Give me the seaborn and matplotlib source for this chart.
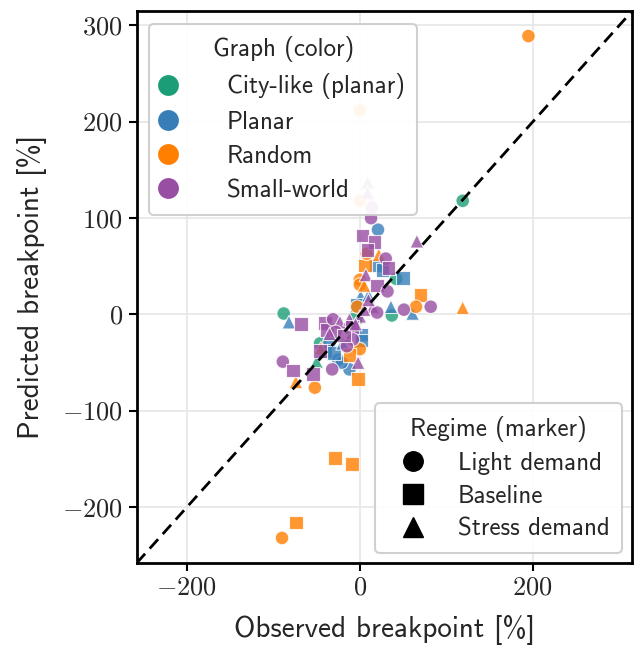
import matplotlib
matplotlib.use("Agg")
import matplotlib.pyplot as plt
from matplotlib.lines import Line2D
from matplotlib.ticker import FuncFormatter
import seaborn as sns
import pandas as pd

# Observed vs predicted breakpoint (% change) per network run
city_obs = [119, -88, 37, -46, -50, 42, -5]
city_pred = [118, 1, -1, -30, -49, 37, -3]
city_reg = ["Light demand", "Light demand", "Light demand", "Light demand",
            "Stress demand", "Light demand", "Baseline"]

planar_obs = [21, 19, 50, 26, 61, 36, -82, -35, -25, -12, -21, 2, 2, 1, -3, 10, -40, -30, -20]
planar_pred = [88, 51, 38, 46, 1, 8, -8, -29, -47, -57, -50, -21, -27, 19, 10, 20, -38, -40, -30]
planar_reg = ["Light demand", "Baseline", "Baseline", "Baseline", "Stress demand",
              "Stress demand", "Stress demand", "Light demand", "Light demand",
              "Light demand", "Light demand", "Baseline", "Baseline", "Stress demand",
              "Baseline", "Stress demand", "Baseline", "Baseline", "Stress demand"]

random_obs = [195, 0, 0, 70, 65, 119, 22, 6, 0, 0, -2, 0, -12, -74, -52, -29, -9, -74,
              -90, -45, -3, 5, 8]
random_pred = [289, 212, 118, 20, 8, 7, 62, 51, 36, 31, -67, -36, -42, -70, -76, -149,
               -155, -216, -232, -35, 8, 30, 63]
random_reg = ["Light demand", "Light demand", "Light demand", "Baseline", "Light demand",
              "Stress demand", "Stress demand", "Baseline", "Light demand", "Light demand",
              "Baseline", "Light demand", "Baseline", "Stress demand", "Light demand",
              "Baseline", "Baseline", "Baseline", "Light demand", "Stress demand",
              "Light demand", "Stress demand", "Light demand"]

small_obs = [13, 3, 17, 9, 66, 30, 33, 7, 20, 32, 82, 51, 15, 20, -68, -40, -38, -31,
             -23, -12, 0, -9, -8, -15, -46, -89, -77, -54, -32, -2, 9, 9, 14, -28, -18,
             -5, 5, 10, -35]
small_pred = [100, 82, 75, 67, 76, 58, 48, 41, 30, 24, 8, 5, 8, 2, -10, -9, -16, -5,
              -8, -5, -2, -13, -26, -33, -38, -49, -58, -62, -57, -50, 137, 126, 111,
              -18, -22, -10, 5, 15, -20]
small_reg = ["Light demand", "Baseline", "Baseline", "Baseline", "Stress demand",
             "Light demand", "Baseline", "Stress demand", "Baseline", "Light demand",
             "Light demand", "Light demand", "Stress demand", "Light demand", "Baseline",
             "Baseline", "Baseline", "Light demand", "Stress demand", "Stress demand",
             "Stress demand", "Baseline", "Light demand", "Light demand", "Baseline",
             "Light demand", "Baseline", "Baseline", "Light demand", "Stress demand",
             "Stress demand", "Stress demand", "Light demand", "Light demand", "Baseline",
             "Stress demand", "Stress demand", "Stress demand", "Stress demand"]

graph_names = ["City-like (planar)", "Planar", "Random", "Small-world"]
graph_colors = ["#1b9e77", "#377eb8", "#ff7f00", "#984ea3"]
regime_names = ["Light demand", "Baseline", "Stress demand"]
regime_markers = ["o", "s", "^"]

frames = []
for name, obs, pred, reg in zip(graph_names,
                                [city_obs, planar_obs, random_obs, small_obs],
                                [city_pred, planar_pred, random_pred, small_pred],
                                [city_reg, planar_reg, random_reg, small_reg]):
    frames.append(pd.DataFrame({"graph": name, "observed": obs,
                                "predicted": pred, "regime": reg}))
df = pd.concat(frames, ignore_index=True)

sns.set_theme(style="whitegrid")
plt.rcParams.update({
    "font.family": ["cmss10", "DejaVu Sans"],
    "mathtext.fontset": "cm",
})

fig = plt.figure(figsize=(6.36, 6.49), dpi=100)
ax = fig.add_axes([0.215, 0.1325, 0.779, 0.8505])

lim = (-258, 315)
ax.plot(lim, lim, ls="--", color="black", lw=2, zorder=3, dashes=(4.5, 2.5))

sns.scatterplot(data=df, x="observed", y="predicted", hue="graph", style="regime",
                hue_order=graph_names, style_order=regime_names,
                palette=dict(zip(graph_names, graph_colors)),
                markers=dict(zip(regime_names, regime_markers)),
                s=95, alpha=0.8, edgecolor="white", linewidth=0.8,
                legend=False, ax=ax, zorder=2)

ax.set_xlim(lim)
ax.set_ylim(lim)
ax.set_xticks([-200, 0, 200])
ax.set_yticks([-200, -100, 0, 100, 200, 300])
math_fmt = FuncFormatter(lambda v, p: r"$%d$" % v)
ax.xaxis.set_major_formatter(math_fmt)
ax.yaxis.set_major_formatter(math_fmt)
ax.grid(True, color="#e6e6e6", lw=1.2)
for sp in ax.spines.values():
    sp.set_color("black")
    sp.set_linewidth(2)
ax.tick_params(axis="both", which="major", direction="out", length=6, width=1.5,
               color="black", labelsize=19, left=True, bottom=True, pad=4)
ax.set_xlabel("Observed breakpoint [%]", fontsize=21, labelpad=11)
ax.set_ylabel("Predicted breakpoint [%]", fontsize=21, labelpad=11)

color_handles = [Line2D([], [], marker="o", ls="", markersize=15, color=c,
                        markeredgecolor="none") for c in graph_colors]
leg1 = ax.legend(color_handles, graph_names, title="Graph (color)", loc="upper left",
                 borderaxespad=0.5, fontsize=18, title_fontsize=18,
                 frameon=True, framealpha=0.92, edgecolor="#cccccc",
                 handlelength=0.5, handletextpad=2.1, labelspacing=0.45,
                 borderpad=0.5)
leg1.get_frame().set_linewidth(1.5)
ax.add_artist(leg1)

marker_handles = [Line2D([], [], marker=m, ls="", markersize=14, color="black")
                  for m in regime_markers]
leg2 = ax.legend(marker_handles, regime_names, title="Regime (marker)",
                 loc="lower right", borderaxespad=0.4, fontsize=18,
                 title_fontsize=18, frameon=True, framealpha=0.92, edgecolor="#cccccc",
                 handlelength=2.0, handletextpad=0.8, labelspacing=0.4, borderpad=0.5)
leg2.get_frame().set_linewidth(1.5)

fig.savefig("out.png", dpi=100)
